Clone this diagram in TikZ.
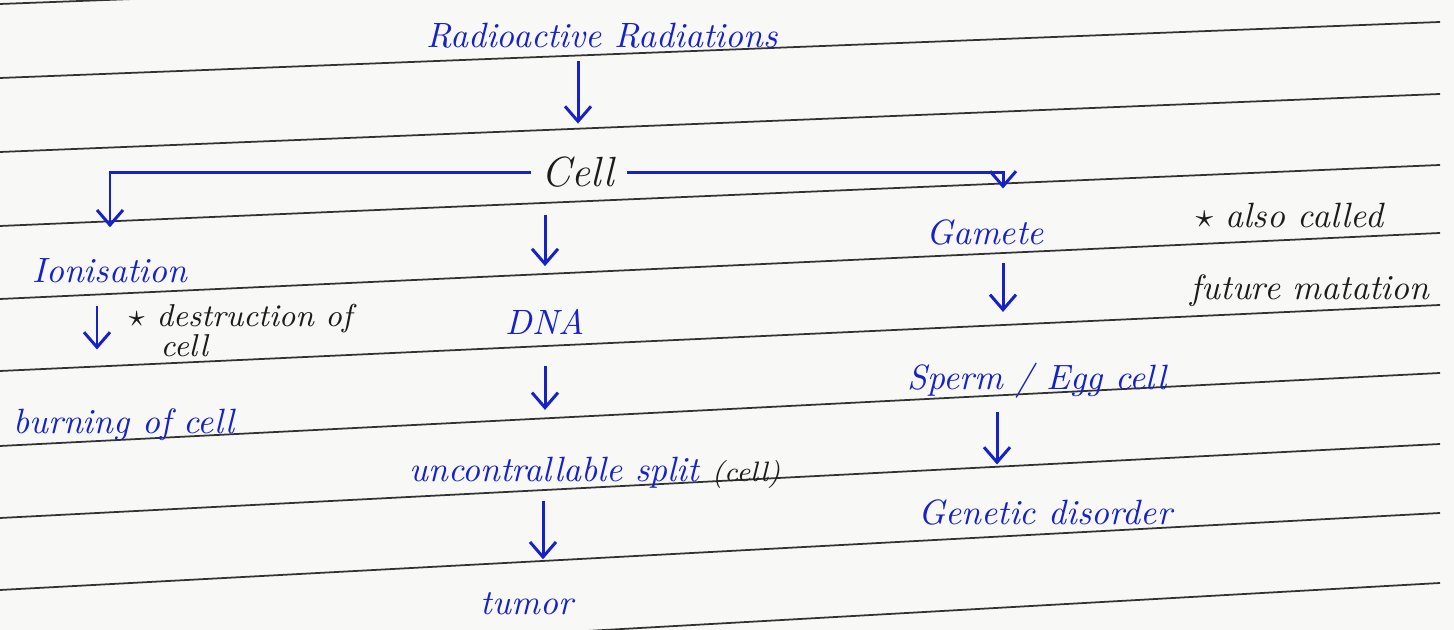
\documentclass[tikz,border=0pt]{standalone}
\usepackage{tikz}
\usetikzlibrary{arrows.meta,calc,positioning}
\definecolor{InkBlue}{RGB}{22,34,200}
\definecolor{InkBlack}{RGB}{28,28,28}
\definecolor{RuleGray}{RGB}{50,50,50}
\definecolor{Paper}{RGB}{248,248,246}

\begin{document}
\begin{tikzpicture}[
    x=0.1mm,y=-0.1mm,
    >={Straight Barb[length=1.5mm,width=2.6mm]},
    rule/.style={RuleGray,line width=0.5pt},
    ink/.style={
      InkBlue,inner sep=0pt,anchor=base,
      font=\itshape\fontsize{10}{12}\selectfont
    },
    inkblack/.style={
      InkBlack,inner sep=0pt,anchor=base west,
      font=\itshape\fontsize{10}{12}\selectfont
    },
    arr/.style={->,InkBlue,line width=0.85pt}
  ]
    % paper and ruled lines
    \useasboundingbox (0,0) rectangle (1454,630);
    \fill[Paper] (0,0) rectangle (1454,630);
    \begin{scope}
      \clip (0,0) rectangle (1454,630);
      \foreach \yl/\yr in {4/-50,78/22,152/94,226/165,299/233,
                           371/305,446/373,518/444,590/513,664/583}
        \draw[rule] (0,\yl) -- (1440,\yr);
    \end{scope}

    % top
    \node[ink] (radio) at (602,48) {Radioactive Radiations};
    \node[inkblack,anchor=base,font=\itshape\fontsize{12}{14}\selectfont]
      (cell) at (578,187) {Cell};

    % left branch
    \node[ink] (ion) at (110,283) {Ionisation};
    \node[inkblack,font=\itshape\fontsize{9}{11}\selectfont]
      (dest) at (128,327) {$\star$ destruction of};
    \node[inkblack,font=\itshape\fontsize{9}{11}\selectfont]
      (destcell) at (160,357) {cell};
    \node[ink] (burn) at (124,434) {burning of cell};

    % middle branch
    \node[ink] (dna) at (545,335) {DNA};
    \node[ink] (split) at (595,482)
      {uncontrallable split {\color{InkBlack}\fontsize{8}{10}\selectfont (cell)}};
    \node[ink] (tumor) at (527,615) {tumor};

    % right branch
    \node[ink] (gamete) at (985,245) {Gamete};
    \node[ink] (sperm) at (1037,390) {Sperm / Egg cell};
    \node[ink] (genetic) at (1045,525) {Genetic disorder};
    \node[inkblack] (also) at (1195,228) {$\star$ also called};
    \node[inkblack] (future) at (1190,300) {future matation};

    % arrows
    \draw[arr,shorten <=1.2mm,shorten >=3.3mm]
      (radio.south -| cell.north) -- (cell.north);
    \draw[arr,shorten <=1mm,shorten >=3.1mm]
      (cell.west) -| (ion.north);
    \draw[arr,shorten <=1.2mm,shorten >=3.1mm]
      (cell.east) -| ([xshift=1.8mm]gamete.north);
    \draw[arr,shorten <=2.6mm,shorten >=4.3mm]
      (cell.south -| dna.north) -- (dna.north);
    \draw[arr,shorten <=2.2mm,shorten >=5.9mm]
      ([xshift=-1.3mm]ion.south) -- ([xshift=-1.3mm]ion.south |- burn.north);
    \draw[arr,shorten <=3mm,shorten >=4.7mm]
      (dna.south) -- (dna.south |- split.north);
    \draw[arr,shorten <=1.1mm,shorten >=3.3mm]
      ([xshift=1.6mm]tumor.north |- split.south) -- ([xshift=1.6mm]tumor.north);
    \draw[arr,shorten <=1.7mm,shorten >=5.1mm]
      ([xshift=1.8mm]gamete.south) -- ([xshift=1.8mm]gamete.south |- sperm.north);
    \draw[arr,shorten <=1.3mm,shorten >=3.5mm]
      ([xshift=-4mm]sperm.south) -- ([xshift=-4mm]sperm.south |- genetic.north);
  \end{tikzpicture}
\end{document}
